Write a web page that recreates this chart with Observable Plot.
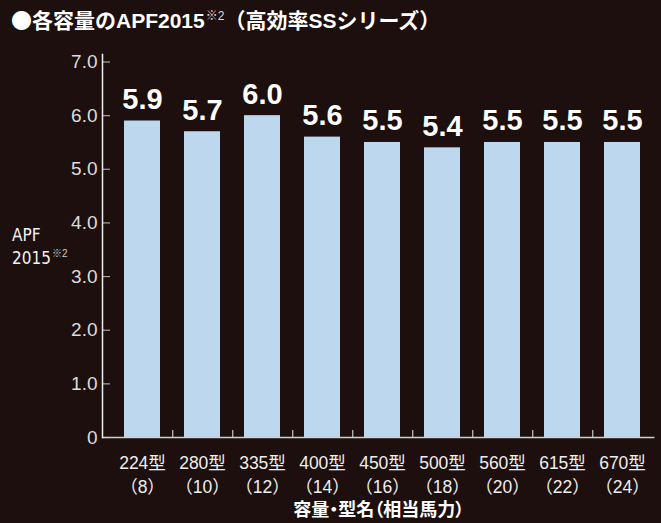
<!DOCTYPE html>
<html><head><meta charset="utf-8">
<script src="https://cdn.jsdelivr.net/npm/d3@7"></script>
<script src="https://cdn.jsdelivr.net/npm/@observablehq/plot@0.6"></script>
<style>
html,body{margin:0;padding:0;background:#1c0f0d;}
#wrap{position:relative;width:661px;height:523px;overflow:hidden;background:#1c0f0d;}
svg{display:block;}
</style>
</head><body><div id="wrap"></div>
<script>
const models = ["224型","280型","335型","400型","450型","500型","560型","615型","670型"];
const horsepower = ["8","10","12","14","16","18","20","22","24"];
const apf = [5.9, 5.7, 6.0, 5.6, 5.5, 5.4, 5.5, 5.5, 5.5];
const yTicks = [0, 1, 2, 3, 4, 5, 6, 7];
const yTickLabels = ["0","1.0","2.0","3.0","4.0","5.0","6.0","7.0"];
const titleBullet = "●";
const titleMain = "各容量のAPF2015";
const titleNote = "※2";
const titleTail = "（高効率SSシリーズ）";
const yLabel1 = "APF";
const yLabel2 = "2015";
const xTitle = "容量・型名（相当馬力）";

const data = models.map((m, i) => ({model: m, hp: horsepower[i], apf: apf[i]}));

const W = 661, H = 523;
const mTop = 54, mBottom = 86, mLeft = 102, mRight = 6.5;
const xr0 = 110.2, xr1 = 654.5, pIn = 0.405, pOut = 0.2025;
const step = (xr1 - xr0) / (models.length - pIn + 2 * pOut);
const frameW = W - mLeft - mRight;
const frameH = H - mTop - mBottom;
const FONT = "'Liberation Sans', 'Noto Sans CJK JP', sans-serif";
const CJK = "'Noto Sans CJK JP', sans-serif";

const chart = Plot.plot({
  width: W, height: H,
  marginTop: mTop, marginBottom: mBottom, marginLeft: mLeft, marginRight: mRight,
  style: {background: "transparent", color: "#eeeeee", fontFamily: FONT, overflow: "visible"},
  x: {domain: models, range: [xr0, xr1], paddingInner: pIn, paddingOuter: pOut, axis: null},
  y: {domain: [0, 7.14], axis: null},
  marks: [
    Plot.barY(data, {x: "model", y: "apf", fill: "#bdd7ee"}),
    Plot.ruleY(yTicks, {y: d => d, stroke: "#a8a8a8", strokeWidth: 1.2, insetRight: frameW - 8}),
    Plot.text(yTicks, {y: d => d, text: (d, i) => yTickLabels[i], frameAnchor: "left", textAnchor: "end", dx: -5, fontSize: 19, fill: "#dddddd"}),
    Plot.ruleX(models.slice(0, -1), {x: d => d, dx: step / 2, stroke: "#c8c8c8", strokeWidth: 1.2, insetTop: frameH - 7}),
    Plot.ruleY([0], {stroke: "#d0d0d0", strokeWidth: 1.5}),
    Plot.frame({anchor: "left", stroke: "#eeeeee", strokeWidth: 1.5}),
    Plot.text(data, {x: "model", y: "apf", text: d => d.apf.toFixed(1), lineAnchor: "bottom", dy: -12, fontSize: 29, fontWeight: "bold", fill: "#ffffff"}),
    Plot.text(data, {x: "model", text: d => `${d.model}\n（${d.hp}）`, frameAnchor: "bottom", lineAnchor: "top", dy: 14.5, fontSize: 17.5, lineHeight: 24 / 17.5, fill: "#eeeeee"}),
    Plot.text([xTitle], {text: d => d, frameAnchor: "bottom", lineAnchor: "middle", dy: 72.3, fontSize: 18, fontWeight: "bold", fill: "#ffffff"})
  ]
});
document.getElementById("wrap").appendChild(chart);

const svg = d3.select(chart);
svg.selectAll("text").filter(function() { return this.textContent === xTitle; })
  .style("font-feature-settings", "'palt'");

const t = svg.append("text")
  .attr("x", 11).attr("y", 28.3)
  .attr("text-anchor", "start")
  .attr("fill", "#ffffff")
  .style("font-family", FONT).style("font-size", "21px").style("font-weight", "bold");
t.append("tspan").style("font-family", CJK).text(titleBullet);
t.append("tspan").text(titleMain);
t.append("tspan").attr("dy", -8).attr("dx", 1).style("font-size", "12px").style("font-weight", "normal").attr("fill", "#dddddd").text(titleNote);
t.append("tspan").attr("dy", 8).text(titleTail);

const NARROW = "'DejaVu Sans Condensed', 'Liberation Sans', sans-serif";
svg.append("text").attr("x", 12).attr("y", 240.7).attr("text-anchor", "start").attr("fill", "#f2f2f2")
  .style("font-family", NARROW).style("font-size", "17px").text(yLabel1);
const y2 = svg.append("text").attr("x", 12).attr("y", 264).attr("text-anchor", "start").attr("fill", "#f2f2f2")
  .style("font-family", NARROW).style("font-size", "17px");
y2.append("tspan").text(yLabel2);
y2.append("tspan").attr("dy", -7).attr("dx", 1).style("font-family", FONT).style("font-size", "10px").attr("fill", "#cccccc").text(titleNote);
</script>
</body></html>
